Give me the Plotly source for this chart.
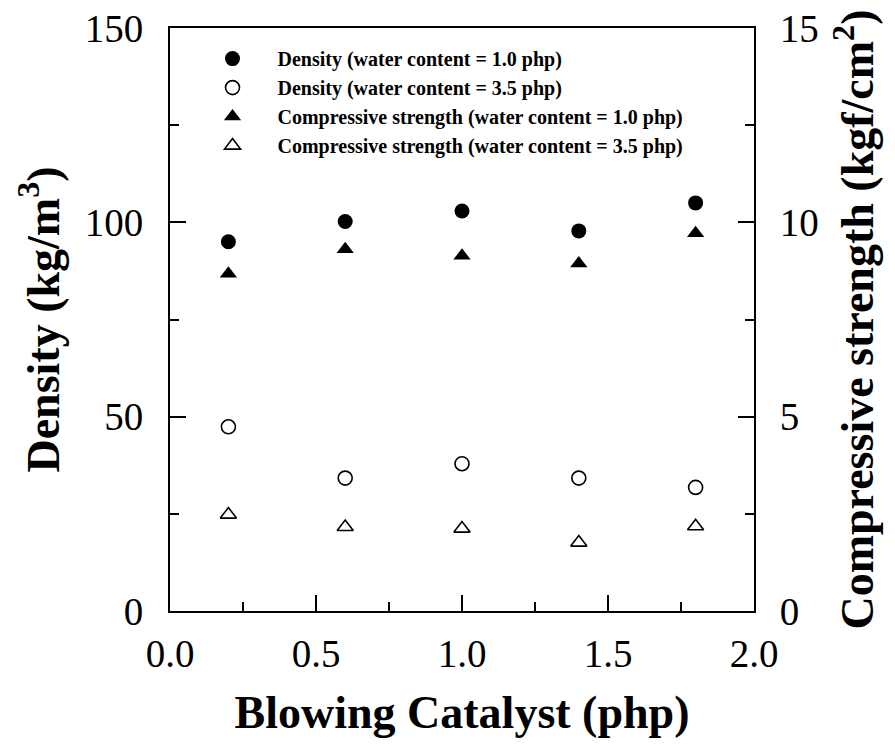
import plotly.graph_objects as go

catalyst = [0.2, 0.6, 1.0, 1.4, 1.8]
density_w10 = [95.0, 100.2, 102.9, 97.8, 105.0]
density_w35 = [47.4, 34.2, 37.9, 34.2, 31.8]
strength_w10 = [8.68, 9.31, 9.14, 8.94, 9.72]
strength_w35 = [2.48, 2.16, 2.12, 1.76, 2.18]

names = [
    "Density (water content = 1.0 php)",
    "Density (water content = 3.5 php)",
    "Compressive strength (water content = 1.0 php)",
    "Compressive strength (water content = 3.5 php)",
]

FONT = "Liberation Serif, Times New Roman, serif"

fig = go.Figure()
fig.add_trace(go.Scatter(x=catalyst, y=density_w10, mode="markers", name=names[0],
                         legendgroup="a",
                         marker=dict(symbol="circle", size=15, color="black")))
fig.add_trace(go.Scatter(x=catalyst, y=density_w35, mode="markers", name=names[1],
                         legendgroup="b",
                         marker=dict(symbol="circle-open", size=14, color="black",
                                     line=dict(width=1.6, color="black"))))
fig.add_trace(go.Scatter(x=catalyst, y=strength_w10, mode="markers", name=names[2],
                         legendgroup="c", yaxis="y2",
                         marker=dict(symbol="triangle-up", size=15, color="black")))
fig.add_trace(go.Scatter(x=catalyst, y=strength_w35, mode="markers", name=names[3],
                         legendgroup="d", yaxis="y2",
                         marker=dict(symbol="triangle-up-open", size=14, color="black",
                                     line=dict(width=1.6, color="black"))))

tickfont = dict(family=FONT, size=39, color="black")
titlefont = dict(family=FONT, size=46, color="black", weight="bold")

fig.update_layout(
    width=895, height=745,
    margin=dict(l=170, r=141, t=28, b=134),
    paper_bgcolor="white", plot_bgcolor="white",
    showlegend=True,
    legend=dict(x=0.03, y=0.981, xanchor="left", yanchor="top",
                font=dict(family=FONT, size=20, color="black", weight="bold"),
                bgcolor="rgba(0,0,0,0)", tracegroupgap=0, itemwidth=80),
    xaxis=dict(range=[0, 2.0], dtick=0.5, tick0=0, tickformat=".1f", automargin=False,
               showline=True, linecolor="black", linewidth=2, mirror=True,
               ticks="inside", ticklen=16, tickwidth=1.5, tickcolor="black",
               minor=dict(ticks="inside", ticklen=9, dtick=0.25, tickwidth=1.5, tickcolor="black"),
               showgrid=False, zeroline=False, tickfont=tickfont, ticklabelstandoff=7,
               title=dict(text="Blowing Catalyst (php)", font=titlefont, standoff=22)),
    yaxis=dict(range=[0, 150], dtick=50, tick0=0, automargin=False,
               showline=True, linecolor="black", linewidth=2,
               ticks="inside", ticklen=16, tickwidth=1.5, tickcolor="black",
               minor=dict(ticks="inside", ticklen=9, dtick=25, tickwidth=1.5, tickcolor="black"),
               showgrid=False, zeroline=False, tickfont=tickfont, ticklabelstandoff=17,
               title=dict(text="Density (kg/m<sup>3</sup>)", font=titlefont, standoff=11)),
    yaxis2=dict(range=[0, 15], dtick=5, tick0=0, overlaying="y", side="right", automargin=False,
                showline=True, linecolor="black", linewidth=2,
                ticks="inside", ticklen=16, tickwidth=1.5, tickcolor="black",
                minor=dict(ticks="inside", ticklen=9, dtick=2.5, tickwidth=1.5, tickcolor="black"),
                showgrid=False, zeroline=False, tickfont=tickfont, ticklabelstandoff=16,
                title=dict(text="Compressive strength (kgf/cm<sup>2</sup>)", font=titlefont, standoff=23)),
)

fig.write_html("out.html")
